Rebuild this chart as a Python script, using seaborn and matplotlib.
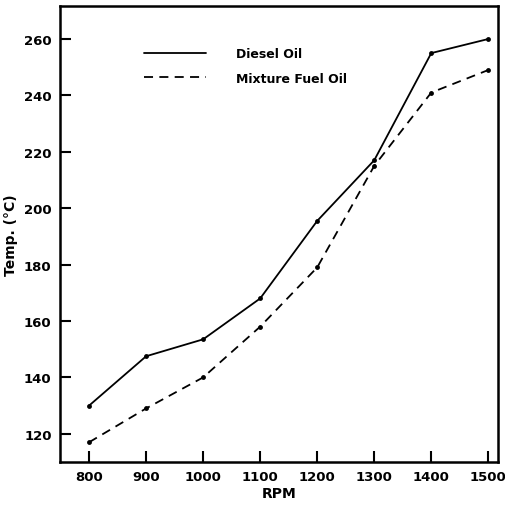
import matplotlib
matplotlib.use("Agg")
import matplotlib.pyplot as plt
import seaborn as sns
import pandas as pd

rpm = [800, 900, 1000, 1100, 1200, 1300, 1400, 1500]
diesel = [130, 147.5, 153.5, 168, 195.5, 217, 255, 260]
mixture = [117, 129, 140, 158, 179, 215, 241, 249]
series_names = ["Diesel Oil", "Mixture Fuel Oil"]
x_ticks = [800, 900, 1000, 1100, 1200, 1300, 1400, 1500]
y_ticks = [120, 140, 160, 180, 200, 220, 240, 260]

df = pd.DataFrame({
    "RPM": rpm * 2,
    "Temp": diesel + mixture,
    "Fuel": [series_names[0]] * len(rpm) + [series_names[1]] * len(rpm),
})

sns.set_style("ticks")
plt.rcParams["font.family"] = ["DejaVu Sans"]
plt.rcParams["font.weight"] = "bold"
plt.rcParams["text.color"] = "black"
plt.rcParams["axes.labelcolor"] = "black"
plt.rcParams["xtick.color"] = "black"
plt.rcParams["ytick.color"] = "black"

fig = plt.figure(figsize=(5.06, 5.10), dpi=100)
ax = fig.add_axes([60 / 506, 47 / 510, 438 / 506, 456 / 510])

sns.lineplot(data=df, x="RPM", y="Temp", style="Fuel", color="black",
             dashes={series_names[0]: "", series_names[1]: (5, 3.5)},
             markers={series_names[0]: "o", series_names[1]: "o"},
             markersize=3.5, markeredgewidth=0, linewidth=1.3, ax=ax)

ax.set_xlim(749, 1517)
ax.set_ylim(110, 271.7)
ax.set_xticks(x_ticks)
ax.set_yticks(y_ticks)
ax.tick_params(direction="in", length=8, width=1.5, labelsize=9.5, pad=6,
               colors="black")
for lab in ax.get_xticklabels() + ax.get_yticklabels():
    lab.set_fontweight("bold")
for s in ax.spines.values():
    s.set_linewidth(1.8)
    s.set_color("black")

ax.set_xlabel("RPM", fontsize=10, fontweight="bold", labelpad=2, color="black")
ax.set_ylabel("Temp. (°C)", fontsize=10, fontweight="bold", labelpad=4, color="black")

leg = ax.legend(loc="upper left", bbox_to_anchor=(0.165, 0.935), frameon=False,
                handlelength=5.0, handletextpad=2.4,
                labelspacing=0.95, prop={"weight": "bold", "size": 9})
for t in leg.get_texts():
    t.set_color("black")
for h in leg.get_lines():
    h.set_marker("")
    h.set_linewidth(1.3)

fig.savefig("out.png", dpi=100)
